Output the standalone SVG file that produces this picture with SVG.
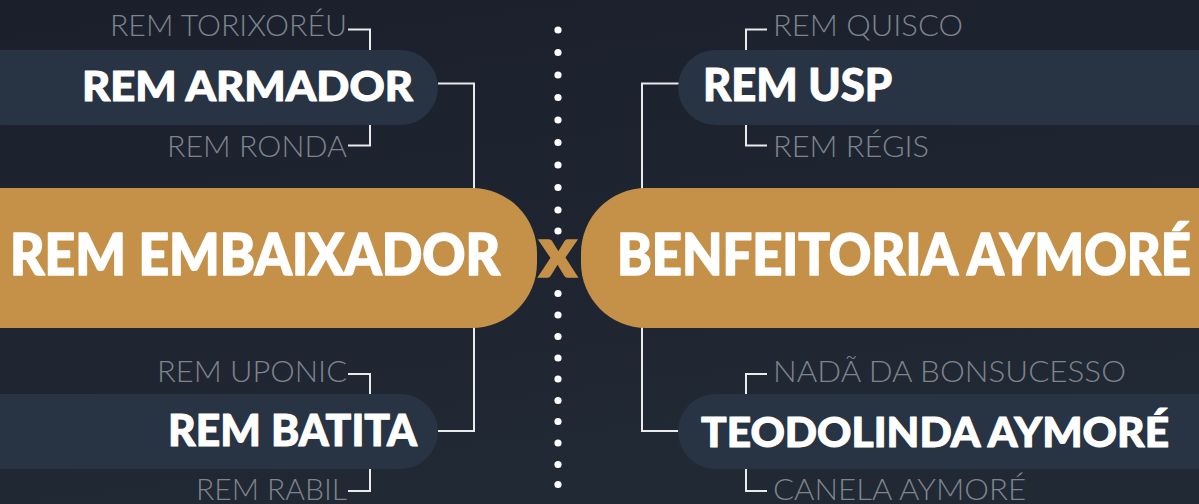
<svg xmlns="http://www.w3.org/2000/svg" width="1199" height="504" viewBox="0 0 1199 504">
  <defs>
    <linearGradient id="bg" x1="0" y1="0" x2="0.3" y2="1">
      <stop offset="0" stop-color="#1a1f2b"/>
      <stop offset="1" stop-color="#212935"/>
    </linearGradient>
  </defs>
  <style>
    .pill { fill: #283443; }
    .gold { fill: #c59148; }
    .title { font-family: Lato, "Liberation Sans", sans-serif; font-weight: 900; fill: #ffffff; stroke: #ffffff; stroke-width: 1; stroke-linejoin: round; }
    .big { stroke-width: 1.6; }
    .sub { font-family: Lato, "Liberation Sans", sans-serif; font-weight: 300; fill: #7f848d; font-size: 29px; }
    .conn { fill: none; stroke: #e9eaec; stroke-width: 2; }
    .dot { fill: #ffffff; }
  </style>
  <rect width="1199" height="504" fill="url(#bg)"/>

  <g id="connectors">
    <path class="conn" d="M438,83.5 H474 V431 H438"/>
    <path class="conn" d="M679,83.5 H642 V431 H679"/>
    <path class="conn" d="M348,29.5 H370 V50"/>
    <path class="conn" d="M370,125 V145.5 H348"/>
    <path class="conn" d="M348,374 H370 V394"/>
    <path class="conn" d="M370,469 V491 H348"/>
    <path class="conn" d="M767,29.5 H746 V50"/>
    <path class="conn" d="M746,125 V145.5 H767"/>
    <path class="conn" d="M767,374 H746 V394"/>
    <path class="conn" d="M746,469 V491 H767"/>
  </g>

  <g id="separator">
    <circle class="dot" cx="558" cy="30" r="3.6"/>
    <circle class="dot" cx="558" cy="52.5" r="3.6"/>
    <circle class="dot" cx="558" cy="75" r="3.6"/>
    <circle class="dot" cx="558" cy="97.5" r="3.6"/>
    <circle class="dot" cx="558" cy="120" r="3.6"/>
    <circle class="dot" cx="558" cy="142.5" r="3.6"/>
    <circle class="dot" cx="558" cy="165" r="3.6"/>
    <circle class="dot" cx="558" cy="187.5" r="3.6"/>
    <circle class="dot" cx="558" cy="210" r="3.6"/>
    <circle class="dot" cx="558" cy="231" r="3.6"/>
    <circle class="dot" cx="558" cy="293.5" r="3.6"/>
    <circle class="dot" cx="558" cy="315" r="3.6"/>
    <circle class="dot" cx="558" cy="336.5" r="3.6"/>
    <circle class="dot" cx="558" cy="358" r="3.6"/>
    <circle class="dot" cx="558" cy="379" r="3.6"/>
    <circle class="dot" cx="558" cy="400.5" r="3.6"/>
    <circle class="dot" cx="558" cy="421.5" r="3.6"/>
    <circle class="dot" cx="558" cy="443" r="3.6"/>
    <circle class="dot" cx="558" cy="464.5" r="3.6"/>
    <circle class="dot" cx="558" cy="484.5" r="3.6"/>
    <text x="558" y="277" text-anchor="middle" font-family="Lato, 'Liberation Sans', sans-serif" font-weight="900" font-size="72" fill="#c59148" stroke="#c59148" stroke-width="1.5">x</text>
  </g>

  <g id="rem-armador">
    <rect class="pill" x="-60" y="50" width="498" height="75" rx="37.5"/>
    <text class="title" x="82" y="101" font-size="41" textLength="331" lengthAdjust="spacingAndGlyphs">REM ARMADOR</text>
    <text class="sub" x="347" y="36" text-anchor="end" textLength="237" lengthAdjust="spacingAndGlyphs">REM TORIXORÉU</text>
    <text class="sub" x="347" y="157" text-anchor="end" textLength="180" lengthAdjust="spacingAndGlyphs">REM RONDA</text>
  </g>

  <g id="rem-batita">
    <rect class="pill" x="-60" y="394" width="498" height="75" rx="37.5"/>
    <text class="title" x="168" y="446" font-size="43" textLength="249" lengthAdjust="spacingAndGlyphs">REM BATITA</text>
    <text class="sub" x="347" y="382" text-anchor="end" textLength="190" lengthAdjust="spacingAndGlyphs">REM UPONIC</text>
    <text class="sub" x="347" y="500" text-anchor="end" textLength="151" lengthAdjust="spacingAndGlyphs">REM RABIL</text>
  </g>

  <g id="rem-usp">
    <rect class="pill" x="678" y="50" width="600" height="75" rx="37.5"/>
    <text class="title" x="703" y="101" font-size="45" textLength="189" lengthAdjust="spacingAndGlyphs">REM USP</text>
    <text class="sub" x="773" y="36" textLength="190" lengthAdjust="spacingAndGlyphs">REM QUISCO</text>
    <text class="sub" x="773" y="157" textLength="156" lengthAdjust="spacingAndGlyphs">REM RÉGIS</text>
  </g>

  <g id="teodolinda-aymore">
    <rect class="pill" x="678" y="394" width="600" height="75" rx="37.5"/>
    <text class="title" x="701" y="447" font-size="41" textLength="468" lengthAdjust="spacingAndGlyphs">TEODOLINDA AYMORÉ</text>
    <text class="sub" x="773" y="382" textLength="353" lengthAdjust="spacingAndGlyphs">NADÃ DA BONSUCESSO</text>
    <text class="sub" x="773" y="500" textLength="253" lengthAdjust="spacingAndGlyphs">CANELA AYMORÉ</text>
  </g>

  <g id="rem-embaixador">
    <rect class="gold" x="-100" y="188" width="637" height="140" rx="65"/>
    <text class="title big" x="10" y="275" font-size="58" textLength="490" lengthAdjust="spacingAndGlyphs">REM EMBAIXADOR</text>
  </g>

  <g id="benfeitoria-aymore">
    <rect class="gold" x="581" y="188" width="700" height="140" rx="65"/>
    <text class="title big" x="617" y="275" font-size="58" textLength="574" lengthAdjust="spacingAndGlyphs">BENFEITORIA AYMORÉ</text>
  </g>
</svg>
